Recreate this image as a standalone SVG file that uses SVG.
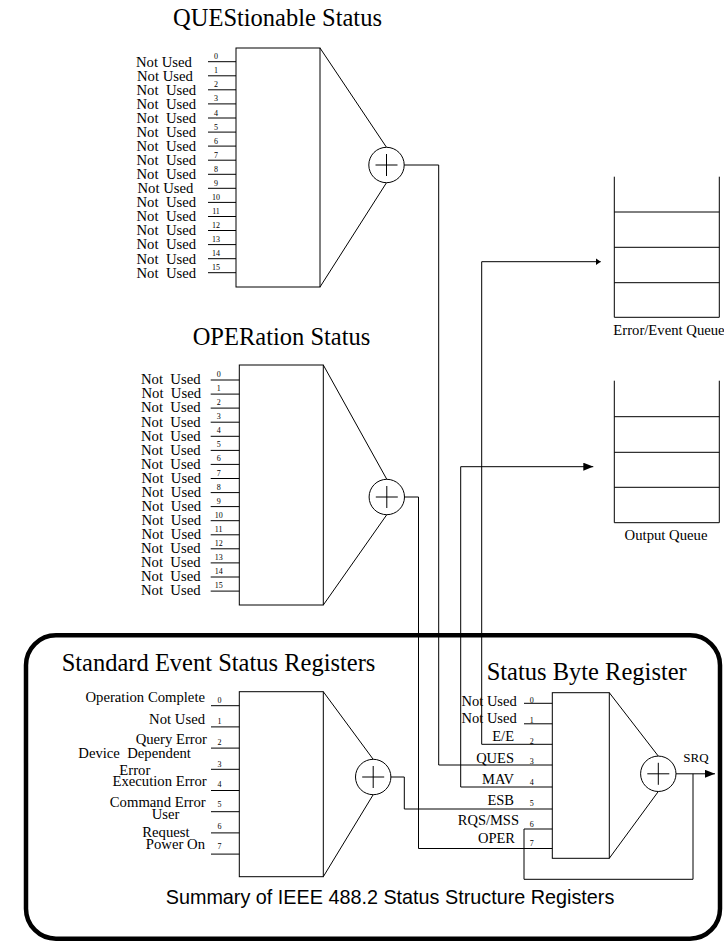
<svg xmlns="http://www.w3.org/2000/svg" width="724" height="941" viewBox="0 0 724 941">
  <style>
    .ln { fill: none; stroke: #000; stroke-width: 1; }
    .sum { fill: #fff; stroke: #000; stroke-width: 1; }
    text { font-family: "Liberation Serif", "Times New Roman", serif; fill: #000; }
    .ttl { font-size: 24.5px; }
    .lbl { font-size: 14.7px; }
    .lbl text { white-space: pre; }
    .sb { font-size: 14.5px; text-anchor: end; }
    .num { font-size: 8px; text-anchor: middle; }
    .end { text-anchor: end; }
    .cap { font-family: "Liberation Sans", Arial, sans-serif; font-size: 19.8px; text-anchor: middle; }
  </style>
  <defs>
    <marker id="arrow" markerUnits="userSpaceOnUse" markerWidth="10" markerHeight="8" refX="10" refY="4" orient="auto">
      <path d="M0 0L10 4L0 8z" fill="#000"/>
    </marker>
    <marker id="arrowSm" markerUnits="userSpaceOnUse" markerWidth="5" markerHeight="7" refX="5" refY="3.5" orient="auto">
      <path d="M0 0L5 3.5L0 7z" fill="#000"/>
    </marker>
    <g id="sumnode">
      <circle r="17.7" class="sum"/>
      <path d="M-11 0H11M0 -11V11" class="ln"/>
    </g>
  </defs>

  <rect width="724" height="941" fill="#fff"/>

  <!-- QUEStionable status register -->
  <g id="ques-register">
    <text class="ttl" x="277.5" y="26" text-anchor="middle">QUEStionable Status</text>
    <rect x="236" y="48" width="84" height="239" class="ln"/>
    <path class="ln" d="M208 61.7H236M208 75.8H236M208 89.8H236M208 103.9H236M208 118H236M208 132.1H236M208 146.1H236M208 160.2H236M208 174.3H236M208 188.3H236M208 202.4H236M208 216.5H236M208 230.5H236M208 244.6H236M208 258.7H236M208 272.7H236"/>
    <g class="lbl" xml:space="preserve">
      <text x="136" y="66.5">Not Used</text>
      <text x="137" y="80.6">Not Used</text>
      <text x="136.5" y="94.6">Not  Used</text>
      <text x="136.5" y="108.7">Not  Used</text>
      <text x="136.5" y="122.8">Not  Used</text>
      <text x="136.5" y="136.9">Not  Used</text>
      <text x="136.5" y="150.9">Not  Used</text>
      <text x="136.5" y="165">Not  Used</text>
      <text x="136.5" y="179.1">Not  Used</text>
      <text x="137.5" y="193.1">Not Used</text>
      <text x="136.5" y="207.2">Not  Used</text>
      <text x="136.5" y="221.3">Not  Used</text>
      <text x="136.5" y="235.3">Not  Used</text>
      <text x="136.5" y="249.4">Not  Used</text>
      <text x="136.5" y="263.5">Not  Used</text>
      <text x="136.5" y="277.5">Not  Used</text>
    </g>
    <g class="num">
      <text x="216" y="59.2">0</text>
      <text x="216" y="73.3">1</text>
      <text x="216" y="87.3">2</text>
      <text x="216" y="101.4">3</text>
      <text x="216" y="115.5">4</text>
      <text x="216" y="129.6">5</text>
      <text x="216" y="143.6">6</text>
      <text x="216" y="157.7">7</text>
      <text x="216" y="171.8">8</text>
      <text x="216" y="185.8">9</text>
      <text x="216" y="199.9">10</text>
      <text x="216" y="214">11</text>
      <text x="216" y="228">12</text>
      <text x="216" y="242.1">13</text>
      <text x="216" y="256.2">14</text>
      <text x="216" y="270.2">15</text>
    </g>
    <path class="ln" d="M320 48L386.5 147.3M320 287L386.5 182.7"/>
    <use href="#sumnode" x="386.5" y="165"/>
  </g>

  <!-- OPERation status register -->
  <g id="oper-register">
    <text class="ttl" x="281.5" y="345" text-anchor="middle">OPERation Status</text>
    <rect x="239.3" y="365" width="84" height="240" class="ln"/>
    <path class="ln" d="M210.7 380H239.3M210.7 394.1H239.3M210.7 408.1H239.3M210.7 422.2H239.3M210.7 436.3H239.3M210.7 450.4H239.3M210.7 464.4H239.3M210.7 478.5H239.3M210.7 492.6H239.3M210.7 506.6H239.3M210.7 520.7H239.3M210.7 534.8H239.3M210.7 548.8H239.3M210.7 562.9H239.3M210.7 577H239.3M210.7 591.1H239.3"/>
    <g class="lbl end" xml:space="preserve">
      <text x="200.5" y="384.3">Not  Used</text>
      <text x="201" y="398.4">Not  Used</text>
      <text x="200.5" y="412.4">Not  Used</text>
      <text x="200.5" y="426.5">Not  Used</text>
      <text x="200.5" y="440.6">Not  Used</text>
      <text x="200.5" y="454.7">Not  Used</text>
      <text x="200.5" y="468.7">Not  Used</text>
      <text x="201" y="482.8">Not  Used</text>
      <text x="201" y="496.9">Not  Used</text>
      <text x="201" y="510.9">Not  Used</text>
      <text x="201" y="525">Not  Used</text>
      <text x="201" y="539.1">Not  Used</text>
      <text x="200.5" y="553.1">Not  Used</text>
      <text x="200.5" y="567.2">Not  Used</text>
      <text x="200.5" y="581.3">Not  Used</text>
      <text x="200.5" y="595.4">Not  Used</text>
    </g>
    <g class="num">
      <text x="218.7" y="377">0</text>
      <text x="218.7" y="391.1">1</text>
      <text x="218.7" y="405.1">2</text>
      <text x="218.7" y="419.2">3</text>
      <text x="218.7" y="433.3">4</text>
      <text x="218.7" y="447.4">5</text>
      <text x="218.7" y="461.4">6</text>
      <text x="218.7" y="475.5">7</text>
      <text x="218.7" y="489.6">8</text>
      <text x="218.7" y="503.6">9</text>
      <text x="218.7" y="517.7">10</text>
      <text x="218.7" y="531.8">11</text>
      <text x="218.7" y="545.8">12</text>
      <text x="218.7" y="559.9">13</text>
      <text x="218.7" y="574">14</text>
      <text x="218.7" y="588.1">15</text>
    </g>
    <path class="ln" d="M323.3 365L386.8 479.3M323.3 605L386.8 514.7"/>
    <use href="#sumnode" x="386.8" y="497"/>
  </g>

  <!-- Error/Event queue -->
  <g id="error-queue">
    <path class="ln" d="M614.3 176.7V317.3M719.3 176.7V317.3M614.3 212H719.3M614.3 247.3H719.3M614.3 282.7H719.3M614.3 317.3H719.3"/>
    <text class="lbl" x="613.3" y="335">Error/Event Queue</text>
  </g>

  <!-- Output queue -->
  <g id="output-queue">
    <path class="ln" d="M614.3 380.7V522.7M719.3 380.7V522.7M614.3 416.7H719.3M614.3 452.3H719.3M614.3 487.3H719.3M614.3 522.7H719.3"/>
    <text class="lbl" x="666" y="540" text-anchor="middle">Output Queue</text>
  </g>

  <!-- Frame around the IEEE 488.2 registers -->
  <g id="ieee-frame">
    <rect x="26" y="635.3" width="694" height="303.4" rx="30" fill="none" stroke="#000" stroke-width="4.5"/>
    <text class="cap" x="390" y="904">Summary of IEEE 488.2 Status Structure Registers</text>
  </g>

  <!-- Standard event status register -->
  <g id="std-event-register">
    <text class="ttl" x="61.7" y="670.7">Standard Event Status Registers</text>
    <rect x="239.3" y="691.7" width="84" height="185" class="ln"/>
    <path class="ln" d="M211 705.7H239.3M211 726.9H239.3M211 748.1H239.3M211 769.3H239.3M211 790.5H239.3M211 811.7H239.3M211 832.9H239.3M211 854.1H239.3"/>
    <g class="lbl" xml:space="preserve">
      <text x="205" y="701.7" text-anchor="end">Operation Complete</text>
      <text x="205" y="724" text-anchor="end">Not Used</text>
      <text x="207" y="744" text-anchor="end">Query Error</text>
      <text x="78.3" y="758.3">Device  Dependent</text>
      <text x="119.3" y="775">Error</text>
      <text x="206.7" y="786" text-anchor="end">Execution Error</text>
      <text x="205.7" y="806.7" text-anchor="end">Command Error</text>
      <text x="151.7" y="819">User</text>
      <text x="142.3" y="836.7">Request</text>
      <text x="205" y="849" text-anchor="end">Power On</text>
    </g>
    <g class="num">
      <text x="219.5" y="703">0</text>
      <text x="219.5" y="723.5">1</text>
      <text x="219.5" y="745">2</text>
      <text x="219.5" y="766.7">3</text>
      <text x="219.5" y="786.7">4</text>
      <text x="219.5" y="806.7">5</text>
      <text x="219.5" y="829.3">6</text>
      <text x="219.5" y="849.3">7</text>
    </g>
    <path class="ln" d="M323.3 691.7L373.2 759.3M323.3 876.7L373.2 794.7"/>
    <use href="#sumnode" x="373.2" y="777"/>
  </g>

  <!-- Status byte register -->
  <g id="status-byte-register">
    <text class="ttl" x="486.7" y="680">Status Byte Register</text>
    <rect x="552.3" y="692.7" width="57" height="165.6" class="ln"/>
    <path class="ln" d="M524 703.3H552.3M524 723.8H552.3"/>
    <g class="sb">
      <text x="516.7" y="706">Not Used</text>
      <text x="516.7" y="722.5">Not Used</text>
      <text x="514" y="740.7">E/E</text>
      <text x="514" y="763">QUES</text>
      <text x="514" y="784">MAV</text>
      <text x="514" y="805">ESB</text>
      <text x="519" y="825">RQS/MSS</text>
      <text x="515" y="842.7">OPER</text>
    </g>
    <g class="num">
      <text x="531.7" y="702.7">0</text>
      <text x="531.7" y="723">1</text>
      <text x="531.7" y="744">2</text>
      <text x="531.7" y="764">3</text>
      <text x="531.7" y="785">4</text>
      <text x="531.7" y="805.5">5</text>
      <text x="531.7" y="827">6</text>
      <text x="531.7" y="845.5">7</text>
    </g>
    <path class="ln" d="M609.3 692.7L658.3 756.1M609.3 858.3L658.3 791.5"/>
    <use href="#sumnode" x="658.3" y="773.8"/>
    <text x="683.3" y="761.7" font-size="13">SRQ</text>
  </g>

  <!-- Connectors between registers and queues -->
  <g id="connectors" class="ln">
    <path d="M404.2 165H438.7V765H552.3"/>
    <path d="M404.5 497H418.5V848.5H552.3"/>
    <path d="M390.9 777H404.3V809H552.3"/>
    <path d="M552.3 787H460.7V466.7H593.3" marker-end="url(#arrow)"/>
    <path d="M552.3 744.3H481.7V261.7H600.7" marker-end="url(#arrowSm)"/>
    <path d="M693 773.8V879.3H524V829H552.3"/>
    <path d="M676 773.8H715" marker-end="url(#arrow)"/>
  </g>
</svg>
